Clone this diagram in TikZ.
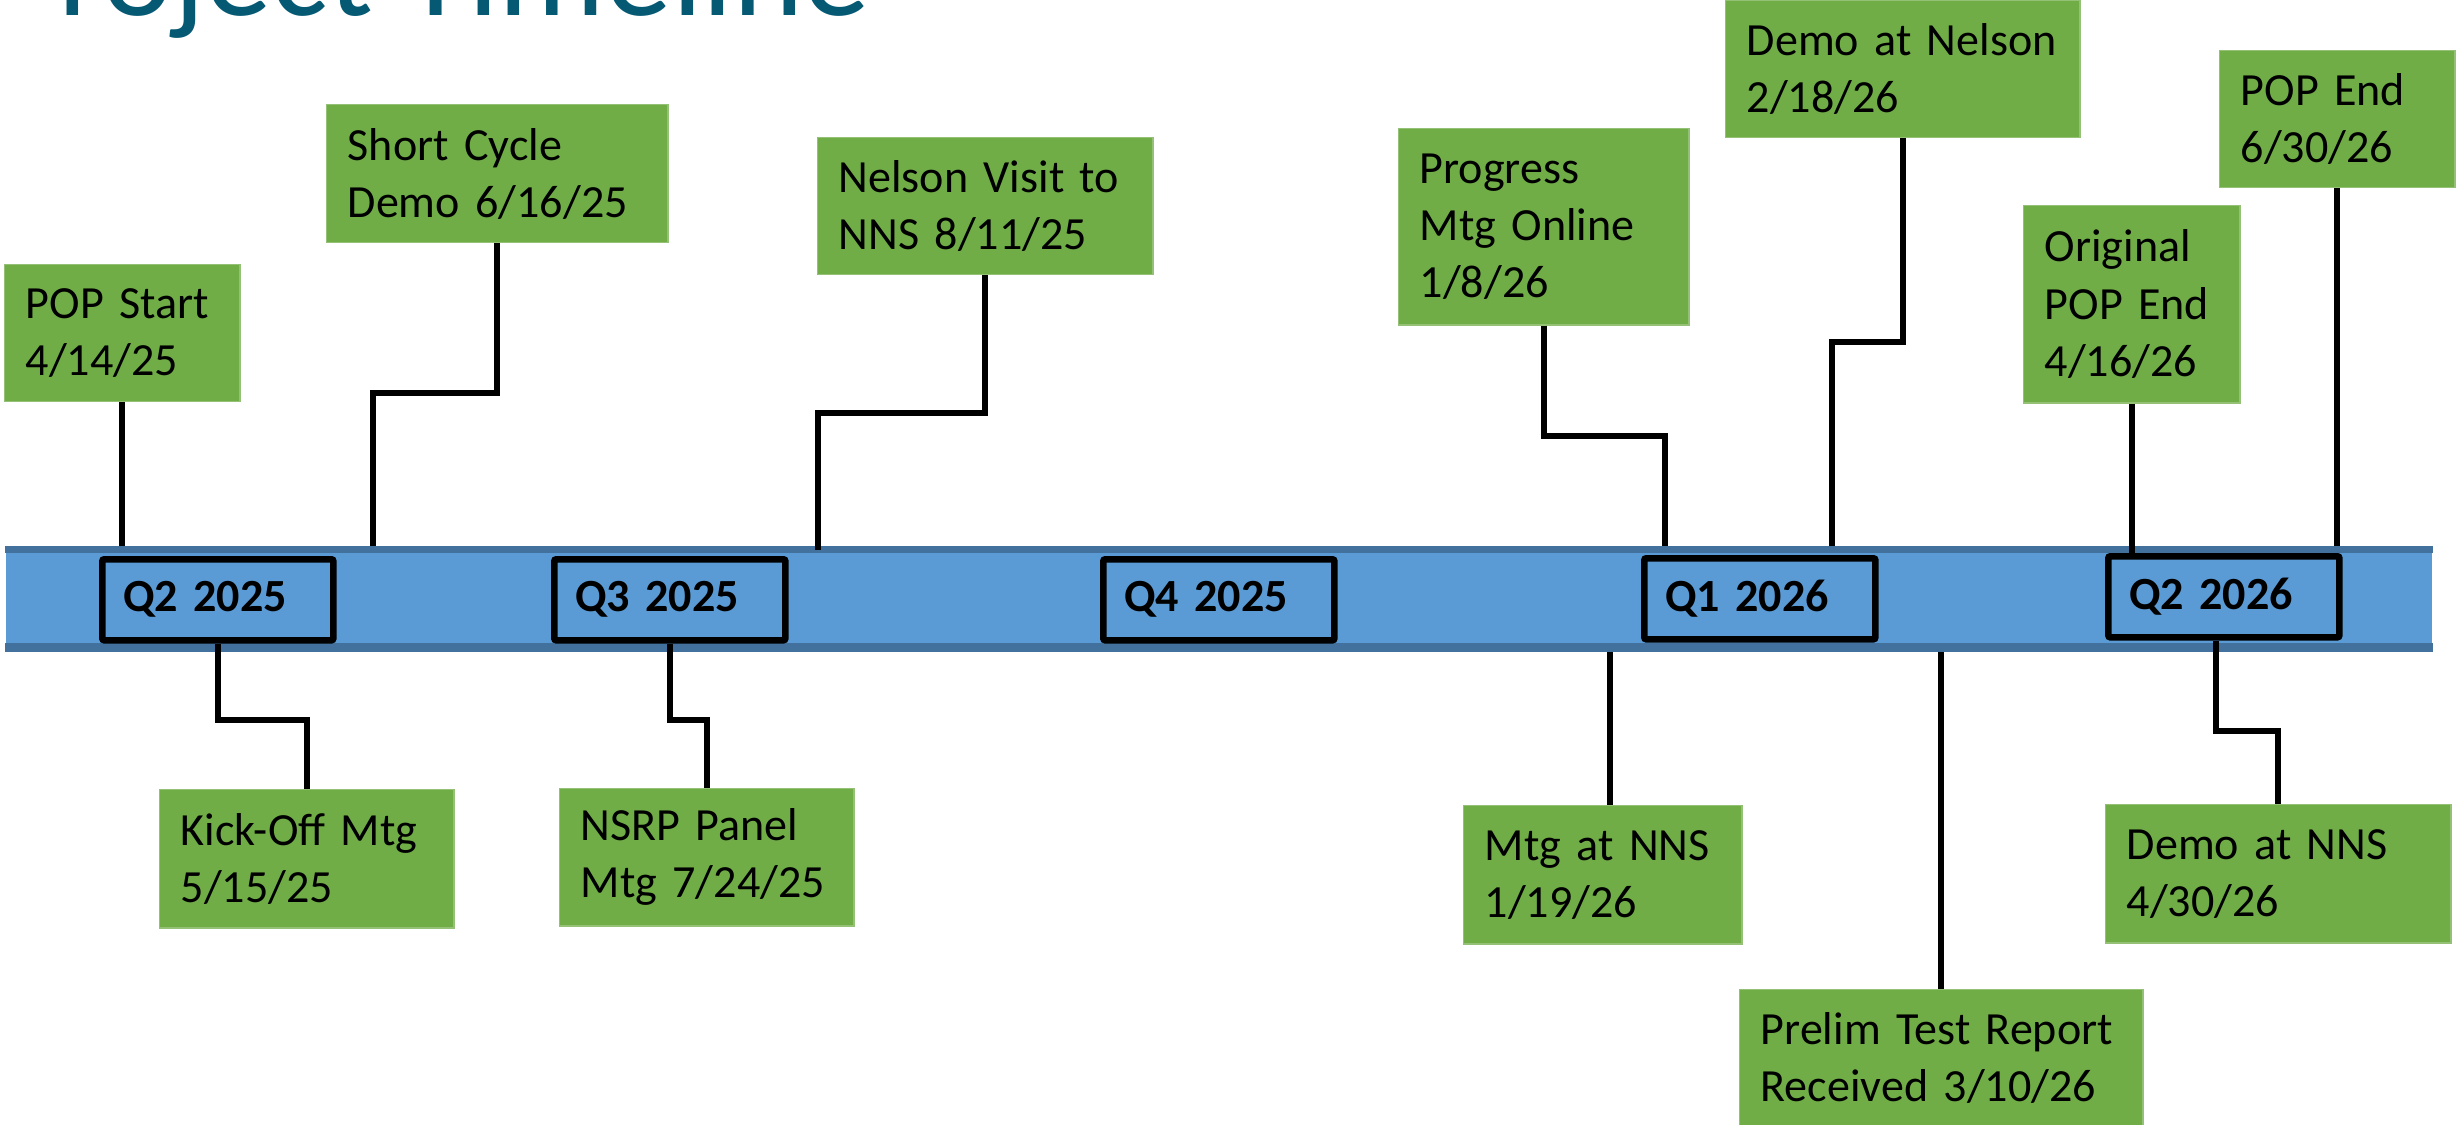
\documentclass[tikz,border=0pt]{standalone}
\usepackage{fontspec}
\setmainfont{Carlito}
\usetikzlibrary{positioning}
\definecolor{evgreen}{RGB}{112,173,71}
\definecolor{barblue}{RGB}{91,155,213}
\definecolor{baredge}{RGB}{65,113,156}
\definecolor{titleteal}{RGB}{5,89,115}
\tikzset{
	evbox/.style={fill=evgreen, draw=evgreen!75!white, line width=0.4pt, anchor=north west, align=left, inner xsep=0.21cm, inner ysep=0pt, font=\fontsize{13.1}{16.3}\selectfont},
	qbox/.style={draw=black, line width=0.065cm, rounded corners=0.02cm, anchor=north west, align=left, inner xsep=0.21cm, inner ysep=0pt, text width=1.89cm, minimum height=0.81cm, font=\fontsize{13.1}{16.3}\selectfont\bfseries},
	link/.style={line width=0.06cm}
}

\begin{document}
\begin{tikzpicture}[x=0.01cm, y=-0.01cm]
		%%%%% START %%%%%
		\useasboundingbox (0,0) rectangle (2458,1124);
		\clip (0,0) rectangle (2458,1124);
		
		\node[anchor=base east, inner sep=0, text=titleteal, font=\fontsize{38}{40}\selectfont] (title) at (871,15) {roject Timeline};
		
		% timeline bar
		\node[fill=barblue, inner sep=0, minimum width=24.25cm, minimum height=1.05cm, anchor=north west] (bar) at (5,546) {};
		\fill[baredge] (bar.north west) rectangle ([yshift=-0.07cm]bar.north east);
		\fill[baredge] ([yshift=0.09cm]bar.south west) rectangle (bar.south east);
		
		\node[qbox] (q2a) at (99,556) {Q2 2025};
		\node[qbox] (q3a) at (551,556) {Q3 2025};
		\node[qbox] (q4a) at (1100,556) {Q4 2025};
		\node[qbox] (q1b) at (1641,555) {Q1 2026};
		\node[qbox] (q2b) at (2105,553) {Q2 2026};
		
		% events above
		\node[evbox, text width=1.93cm, minimum height=1.37cm] (popstart) at (4,264) {POP Start\\4/14/25};
		\node[evbox, text width=2.99cm, minimum height=1.38cm] (shortcyc) at (326,104) {Short Cycle\\Demo 6/16/25};
		\node[evbox, text width=2.93cm, minimum height=1.37cm] (nelson) at (817,137) {Nelson Visit to\\NNS 8/11/25};
		\node[evbox, text width=2.48cm, minimum height=1.96cm] (progress) at (1398,128) {Progress\\Mtg Online\\1/8/26};
		\node[evbox, text width=3.12cm, minimum height=1.37cm] (demonel) at (1725,0) {Demo at Nelson\\2/18/26};
		\node[evbox, text width=1.74cm, minimum height=1.97cm] (origend) at (2023,205) {Original\\POP End\\4/16/26};
		\node[evbox, text width=1.93cm, minimum height=1.37cm] (popend) at (2219,50) {POP End\\6/30/26};
		
		% events below
		\node[evbox, text width=2.52cm, minimum height=1.38cm] (kickoff) at (159,789) {Kick-Off Mtg\\5/15/25};
		\node[evbox, text width=2.52cm, minimum height=1.37cm] (nsrp) at (559,788) {NSRP Panel\\Mtg 7/24/25};
		\node[evbox, text width=2.36cm, minimum height=1.38cm] (mtgnns) at (1463,805) {Mtg at NNS\\1/19/26};
		\node[evbox, text width=3.61cm, minimum height=1.37cm] (prelim) at (1739,989) {Prelim Test Report\\Received 3/10/26};
		\node[evbox, text width=3.03cm, minimum height=1.38cm] (demonns) at (2105,804) {Demo at NNS\\4/30/26};
		
		\coordinate (tShort) at (373,546);
		\coordinate (tNelson) at (818,550);
		\coordinate (tProgress) at (1665,546);
		\coordinate (tDemoNel) at (1832,546);
		
		\draw[link] (popstart.south) -- (popstart.south |- bar.north);
		\draw[link] (shortcyc.south) -- ++(0,150) -| (tShort);
		\draw[link] (nelson.south) -- ++(0,138) -| (tNelson);
		\draw[link] (progress.south) -- ++(0,110) -| (tProgress);
		\draw[link] (demonel.south) -- ++(0,204) -| (tDemoNel);
		\draw[link] (origend.south) -- (origend.south |- q2b.north);
		\draw[link] (popend.south) -- (popend.south |- bar.north);
		
		\draw[link] (q2a.south) -- ++(0,76) -| (kickoff.north);
		\draw[link] (q3a.south) -- ++(0,76) -| (nsrp.north);
		\draw[link] ([xshift=0.07cm]mtgnns.north |- bar.south) -- ([xshift=0.07cm]mtgnns.north);
		\draw[link] (prelim.north |- bar.south) -- (prelim.north);
		\draw[link] ([xshift=-0.08cm]q2b.south) -- ++(0,90) -| (demonns.north);
		
		%%%%% END %%%%%
\end{tikzpicture}
\end{document}
